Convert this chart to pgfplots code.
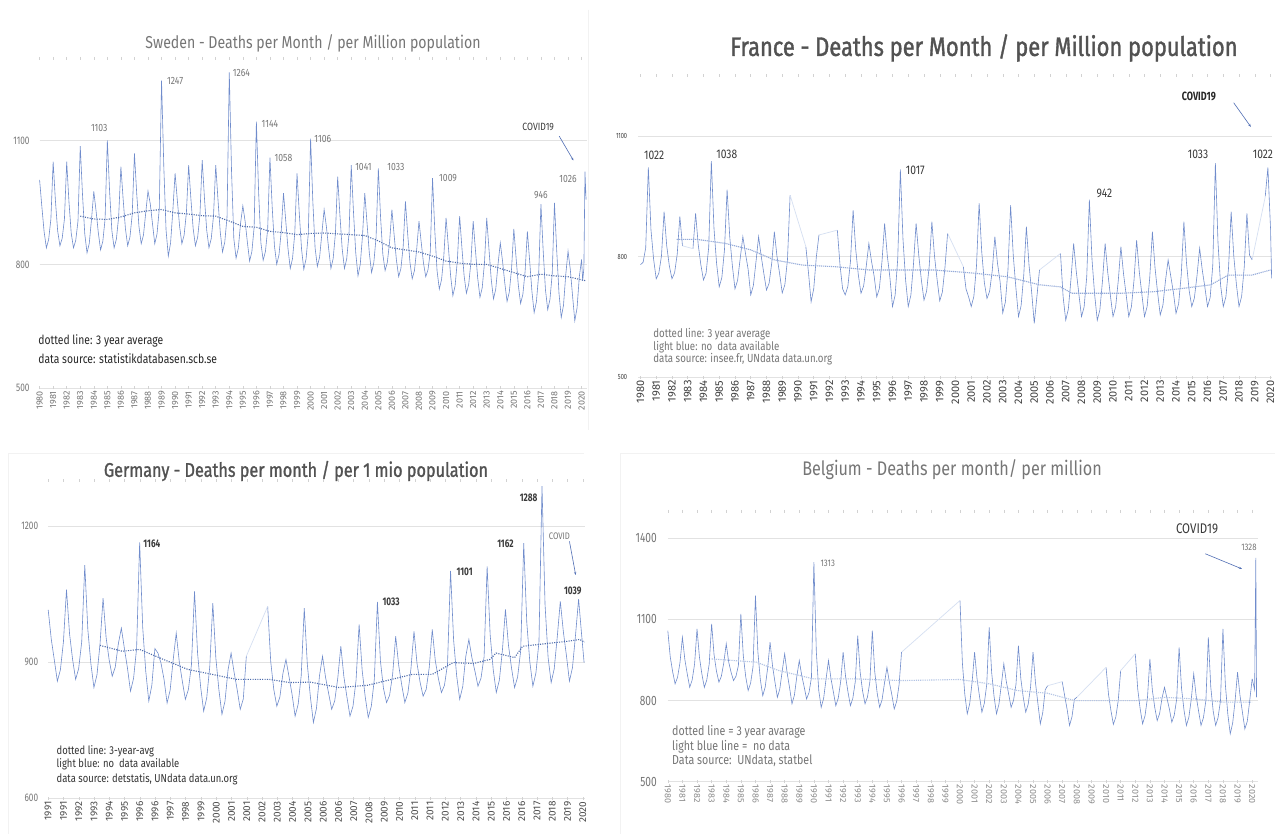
\documentclass[border=0pt]{standalone}
\usepackage{pgfplots}
\pgfplotsset{compat=1.18}
\usetikzlibrary{arrows.meta}
\usepackage{fontspec}
\setmainfont{Fira Sans}[FakeStretch=0.75]
\newfontfamily\tickfont{Fira Sans}
\newfontfamily\txt{Fira Sans}[FakeStretch=0.82]
\newfontfamily\med{Fira Sans}[FakeStretch=0.82, FakeBold=1.3]
\newcommand{\fs}[1]{\fontsize{#1}{#1}\selectfont}
\definecolor{linec}{RGB}{112,140,204}
\definecolor{avgc}{RGB}{78,108,172}
\definecolor{avglight}{RGB}{150,172,218}
\definecolor{nodata}{RGB}{214,224,242}
\definecolor{gridc}{RGB}{226,226,226}
\definecolor{txtgray}{RGB}{118,118,118}
\definecolor{txtdark}{RGB}{58,58,58}
\definecolor{titled}{RGB}{82,82,82}
\definecolor{arrowc}{RGB}{80,110,180}
\pgfplotsset{
  panel/.style={
    scale only axis,
    axis line style={draw=none},
    ymajorgrids,
    major grid style={draw=gridc, line width=0.7pt},
    ytick style={draw=none},
    xtick style={draw=gray!35, line width=0.5pt},
    major tick length=3pt, tick align=center,
    clip=false,
    unbounded coords=jump,
    /pgf/number format/assume math mode=true,
    /pgf/number format/1000 sep={},
    xticklabel style={rotate=90, anchor=east, inner sep=1.5pt},
  },
  dline/.style={color=linec, line width=0.6pt, mark=none},
  avgline/.style={color=avgc, line width=1.1pt, dash pattern=on 1.1pt off 1.3pt, mark=none},
  nodline/.style={color=nodata, line width=0.7pt, mark=none},
}
\begin{document}
\begin{tikzpicture}
\path[use as bounding box] (0pt,0pt) rectangle (1275pt,834pt);
\fill[white] (0pt,0pt) rectangle (1275pt,834pt);
\draw[gray!10, line width=0.8pt] (588pt,824pt) -- (588pt,404pt);
\draw[gray!10, line width=0.8pt] (8pt,0pt) -- (8pt,381pt) -- (584pt,381pt);
\draw[gray!10, line width=0.8pt] (620pt,0pt) -- (620pt,381pt) -- (1275pt,381pt);

% ---------------- Sweden ----------------
\node[font=\txt\fs{17.2}, text=txtgray] at (313pt,791pt) {Sweden - Deaths per Month / per Million population};
\begin{axis}[panel,
  at={(39.6pt,446pt)}, anchor=south west,
  width=547.4pt, height=329.7pt,
  xmin=1980, xmax=2020.4, ymin=500, ymax=1300,
  ytick={500,800,1100}, xtick={1980,1981,...,2020},
  yticklabel style={font=\fs{11}, text=txtgray, xshift=-5pt},
  xticklabel style={font=\tickfont\fs{9}, text=txtgray},
]
\addplot[dline] table[row sep=\\, x expr=1980+\coordindex/6, y index=0] {v\\
1005\\940\\879\\840\\860\\910\\
1049\\955\\881\\845\\863\\910\\
1049\\952\\876\\840\\858\\905\\
1087\\969\\874\\828\\851\\910\\
977\\930\\877\\835\\856\\910\\
1101\\977\\882\\840\\861\\915\\
1037\\958\\887\\845\\866\\920\\
1069\\972\\892\\850\\871\\925\\
978\\947\\898\\850\\874\\935\\
1246\\1037\\883\\820\\852\\930\\
1021\\955\\892\\850\\871\\925\\
1041\\959\\887\\845\\866\\920\\
1053\\961\\883\\840\\862\\917\\
1041\\956\\878\\830\\854\\915\\
1266\\1025\\863\\815\\839\\900\\
942\\905\\854\\808\\831\\890\\
1146\\973\\852\\810\\831\\885\\
1059\\939\\845\\800\\823\\880\\
973\\906\\838\\790\\814\\875\\
1021\\923\\837\\788\\813\\875\\
1105\\952\\840\\795\\818\\875\\
933\\892\\838\\790\\814\\875\\
1013\\919\\837\\790\\813\\873\\
1041\\927\\828\\772\\800\\870\\
973\\900\\828\\780\\804\\865\\
1033\\914\\824\\785\\805\\855\\
933\\871\\811\\770\\790\\843\\
953\\874\\805\\765\\785\\837\\
905\\853\\803\\770\\787\\830\\
1009\\883\\785\\740\\763\\820\\
913\\843\\773\\724\\748\\810\\
917\\841\\772\\730\\751\\805\\
905\\835\\767\\720\\743\\803\\
913\\836\\763\\716\\740\\800\\
852\\808\\755\\710\\733\\790\\
886\\816\\749\\705\\727\\783\\
880\\809\\735\\683\\709\\775\\
946\\833\\739\\690\\715\\777\\
949\\833\\730\\671\\701\\775\\
832\\788\\724\\663\\694\\770\\
};
\addplot[dline] coordinates {(2019.833,770)(2020,812)(2020.08,760)(2020.17,790)(2020.25,1025)(2020.33,957)};
\addplot[avgline] coordinates {(1983,917)(1984,910)(1985,909)(1986,915)(1987,925)(1988,930)(1989,933)(1990,925)(1991,922)(1992,918)(1993,917)(1994,905)(1995,892)(1996,890)(1997,880)(1998,877)(1999,872)(2000,875)(2001,876)(2002,874)(2003,872)(2004,870)(2005,857)(2006,840)(2007,835)(2008,830)(2009,820)(2010,808)(2011,803)(2012,800)(2013,800)(2014,790)(2015,780)(2016,770)(2017,776)(2018,772)(2019,770)(2020.33,760)};
\begin{scope}[every node/.style={font=\txt\fs{10.5}, text=txtgray}]
\node at (axis cs:1984.4,1130) {1103};
\node at (axis cs:1990.0,1246) {1247};
\node at (axis cs:1994.9,1264) {1264};
\node at (axis cs:1997.0,1140) {1144};
\node at (axis cs:2000.9,1103) {1106};
\node at (axis cs:1998.0,1057) {1058};
\node at (axis cs:2003.9,1036) {1041};
\node at (axis cs:2006.3,1037) {1033};
\node at (axis cs:2010.15,1009) {1009};
\node at (axis cs:2017.0,967) {946};
\node at (axis cs:2019.0,1007) {1026};
\end{scope}
\node[font=\txt\fs{10.5}, text=txtdark] at (axis cs:2016.8,1134) {COVID19};
\draw[arrowc, line width=0.6pt, -{Stealth[length=3pt]}] (axis cs:2018.35,1111) -- (axis cs:2019.4,1052);
\node[anchor=west, font=\txt\fs{12.6}, text=black!85] at (axis cs:1979.65,613) {dotted line: 3 year average};
\node[anchor=west, font=\txt\fs{12.6}, text=black!85] at (axis cs:1979.65,572) {data source: statistikdatabasen.scb.se};
\end{axis}

% ---------------- France ----------------
\node[font=\med\fs{26.7}, text=titled] at (984pt,786pt) {France - Deaths per Month / per Million population};
\begin{axis}[panel,
  at={(638.1pt,456.7pt)}, anchor=south west,
  width=634pt, height=301.5pt,
  xmin=1979.85, xmax=2020.1, ymin=500, ymax=1250,
  ytick={500,800,1100}, xtick={1980,1981,...,2020},
  yticklabel style={font=\fs{7.5}, text=txtdark, xshift=-6pt},
  xticklabel style={font=\tickfont\fs{11}, text=black!75},
]
\addplot[dline] table[row sep=\\, x expr=1980+\coordindex/6, y index=0] {v\\
780\\786\\822\\1022\\867\\794\\
745\\759\\802\\912\\827\\777\\
745\\760\\806\\900\\827\\nan\\
nan\\nan\\820\\908\\830\\780\\
742\\759\\824\\1038\\871\\783\\
725\\748\\817\\967\\850\\778\\
720\\741\\796\\850\\808\\769\\
705\\728\\787\\850\\801\\758\\
717\\734\\784\\862\\801\\758\\
710\\730\\793\\953\\nan\\nan\\
nan\\nan\\nan\\825\\760\\688\\
720\\800\\854\\nan\\nan\\nan\\
nan\\nan\\nan\\866\\780\\720\\
705\\726\\789\\916\\818\\754\\
709\\727\\776\\833\\789\\752\\
700\\721\\788\\883\\804\\749\\
676\\704\\795\\1017\\844\\742\\
676\\704\\781\\883\\804\\742\\
692\\714\\777\\887\\802\\743\\
690\\712\\774\\858\\nan\\nan\\
nan\\nan\\nan\\775\\720\\700\\
676\\701\\777\\933\\812\\735\\
696\\714\\765\\850\\784\\737\\
660\\687\\768\\928\\804\\723\\
651\\678\\754\\875\\780\\713\\
634\\700\\767\\nan\\nan\\nan\\
nan\\nan\\nan\\nan\\808\\700\\
642\\670\\745\\833\\764\\707\\
651\\675\\751\\942\\794\\706\\
642\\668\\740\\833\\761\\704\\
651\\675\\740\\825\\758\\706\\
651\\675\\741\\841\\763\\706\\
651\\676\\748\\862\\773\\710\\
655\\679\\741\\792\\752\\711\\
659\\683\\755\\887\\784\\716\\
676\\697\\753\\821\\767\\724\\
676\\698\\778\\1033\\835\\728\\
676\\700\\771\\912\\802\\731\\
676\\701\\775\\908\\804\\792\\
nan\\nan\\nan\\nan\\950\\1022\\
870\\
};
\addplot[dline] coordinates {(2020,870)(2020.07,746)};
\addplot[nodline] coordinates {(1982.67,827)(1983.33,820)};
\addplot[nodline] coordinates {(1989.5,953)(1990.5,825)};
\addplot[nodline] coordinates {(1991.33,854)(1992.5,866)};
\addplot[nodline] coordinates {(1999.5,858)(2000.5,775)};
\addplot[nodline] coordinates {(2005.33,767)(2006.67,808)};
\addplot[nodline] coordinates {(2018.83,792)(2019.67,950)};
\addplot[color=avglight, line width=1.1pt, dash pattern=on 1.2pt off 0.8pt] coordinates {(1982.3,843)(1983.6,843)(1985.4,833)(1987,817)(1988.5,792)(1990.3,779)(1992.4,775)(1994.5,767)(1996.5,767)(1998.6,767)(2001.2,759)(2003.3,750)(2005.35,730)(2006.65,725)(2007.4,709)(2010.5,709)(2012.6,713)(2014.4,721)(2016.2,730)(2017.3,754)(2018.8,754)(2020,767)};
\begin{scope}[every node/.style={font=\txt\fs{12.5}, text=txtdark}]
\node at (axis cs:1980.87,1053) {1022};
\node at (axis cs:1985.48,1054) {1038};
\node at (axis cs:1997.45,1015) {1017};
\node at (axis cs:2009.45,957) {942};
\node at (axis cs:2015.4,1055) {1033};
\node at (axis cs:2019.52,1054) {1022};
\end{scope}
\node[font=\bfseries\fs{12}, text=black!85] at (axis cs:2015.45,1199) {COVID19};
\draw[arrowc, line width=0.6pt, -{Stealth[length=3pt]}] (axis cs:2017.66,1183) -- (axis cs:2018.75,1123);
\begin{scope}[every node/.style={anchor=west, font=\txt\fs{11.8}, text=txtgray}]
\node at (axis cs:1980.6,607) {dotted line: 3 year average};
\node at (axis cs:1980.6,576) {light blue: no\ \ data available};
\node at (axis cs:1980.6,545) {data source: insee.fr, UNdata data.un.org};
\end{scope}
\end{axis}

% ---------------- Germany ----------------
\node[font=\med\fs{19.8}, text=titled] at (296pt,363pt) {Germany - Deaths per month / per 1 mio population};
\begin{axis}[panel,
  at={(48.2pt,35.7pt)}, anchor=south west,
  width=536.8pt, height=317.7pt,
  xmin=1991, xmax=2020.35, ymin=600, ymax=1300,
  ytick={600,900,1200},
  xtick={1991,1991.8354,...,2020.3},
  xticklabels={1991,1991,1992,1993,1994,1995,1996,1996,1997,1998,1999,2000,2001,2001,2002,2003,2004,2005,2006,2006,2007,2008,2009,2010,2011,2011,2012,2013,2014,2015,2016,2016,2017,2018,2019,2020},
  yticklabel style={font=\fs{11}, text=txtgray, xshift=-5pt},
  xticklabel style={font=\tickfont\fs{10}, text=black!70},
]
\addplot[dline] table[row sep=\\, x expr=1991+\coordindex/6, y index=0] {v\\
1015\\951\\905\\858\\883\\945\\
1060\\963\\906\\862\\886\\945\\
1114\\972\\897\\844\\872\\940\\
1041\\954\\905\\869\\889\\940\\
975\\930\\887\\836\\864\\930\\
1164\\977\\880\\814\\849\\930\\
920\\898\\862\\810\\838\\905\\
964\\901\\858\\818\\840\\895\\
1056\\920\\846\\792\\821\\890\\
1030\\909\\839\\785\\814\\883\\
920\\877\\839\\796\\819\\913\\
nan\\nan\\nan\\nan\\nan\\nan\\
1023\\901\\840\\803\\823\\875\\
906\\868\\829\\781\\807\\870\\
1019\\896\\824\\767\\798\\870\\
913\\866\\831\\796\\815\\865\\
935\\868\\823\\781\\803\\860\\
983\\882\\824\\778\\803\\863\\
1033\\902\\842\\811\\827\\873\\
957\\892\\849\\811\\832\\885\\
968\\897\\856\\825\\840\\888\\
972\\903\\864\\833\\849\\895\\
1101\\949\\870\\818\\846\\913\\
950\\910\\880\\847\\865\\912\\
1111\\960\\883\\833\\860\\925\\
1016\\937\\887\\844\\867\\925\\
1162\\988\\901\\847\\876\\945\\
1288\\1027\\910\\855\\885\\955\\
1034\\967\\915\\858\\888\\960\\
1039\\960\\
};
\addplot[dline] coordinates {(2020.167,960)(2020.3,899)};
\addplot[nodline] coordinates {(2001.83,913)(2003,1023)};
\addplot[avgline] coordinates {(1993.83,937)(1995.06,924)(1996,928)(1997.3,906)(1998.63,884)(1999.97,873)(2001.3,862)(2003.1,862)(2004.2,855)(2005.33,856)(2006.9,844)(2008.46,849)(2009.57,860)(2010.9,873)(2012,873)(2013.14,899)(2014.26,897)(2015.15,906)(2015.49,920)(2016.5,910)(2016.94,935)(2018.5,942)(2019.4,946)(2020.06,950)(2020.33,944)};
\begin{scope}[every node/.style={font=\bfseries\fs{11}, text=txtdark}]
\node at (axis cs:1996.67,1160) {1164};
\node at (axis cs:2009.75,1032) {1033};
\node at (axis cs:2013.77,1100) {1101};
\node at (axis cs:2016.0,1160) {1162};
\node at (axis cs:2017.27,1263) {1288};
\node at (axis cs:2019.68,1057) {1039};
\end{scope}
\node[font=\txt\fs{9.5}, text=txtgray] at (axis cs:2018.95,1177) {COVID};
\draw[arrowc, line width=0.6pt, -{Stealth[length=3pt]}] (axis cs:2019.5,1166) -- (axis cs:2019.84,1092);
\begin{scope}[every node/.style={anchor=west, font=\txt\fs{11.5}, text=black!80}]
\node at (axis cs:1991.27,703) {dotted line: 3-year-avg};
\node at (axis cs:1991.27,674) {light blue: no\ \ data available};
\node at (axis cs:1991.27,642) {data source: detstatis, UNdata data.un.org};
\end{scope}
\end{axis}

% ---------------- Belgium ----------------
\node[font=\txt\fs{19.7}, text=txtgray] at (952pt,364pt) {Belgium - Deaths per month/ per million};
\begin{axis}[panel,
  at={(667.8pt,52.3pt)}, anchor=south west,
  width=590.2pt, height=270.4pt,
  xmin=1980, xmax=2020.4, ymin=500, ymax=1500,
  ytick={500,800,1100,1400}, xtick={1980,1981,...,2020},
  yticklabel style={font=\fs{13.5}, text=txtgray, xshift=-6pt},
  xticklabel style={font=\tickfont\fs{9}, text=black!45, rotate=180, anchor=west},
]
\addplot[dline] table[row sep=\\, x expr=1980+\coordindex/6, y index=0] {v\\
1059\\962\\906\\862\\886\\940\\
1034\\952\\898\\849\\876\\935\\
1065\\960\\898\\849\\876\\935\\
1084\\969\\908\\868\\890\\940\\
1010\\943\\904\\874\\890\\930\\
1121\\967\\888\\837\\864\\925\\
1188\\980\\878\\818\\850\\920\\
1016\\929\\869\\812\\843\\910\\
973\\903\\848\\788\\820\\890\\
948\\893\\851\\806\\830\\885\\
1312\\981\\837\\775\\808\\880\\
948\\882\\832\\781\\809\\870\\
979\\890\\832\\781\\809\\870\\
1040\\905\\835\\788\\813\\870\\
1059\\906\\827\\775\\803\\865\\
923\\868\\822\\769\\797\\860\\
979\\nan\\nan\\nan\\nan\\nan\\
nan\\nan\\nan\\nan\\nan\\nan\\
nan\\nan\\nan\\nan\\nan\\nan\\
nan\\nan\\nan\\nan\\nan\\nan\\
1170\\938\\822\\751\\789\\870\\
979\\882\\817\\757\\790\\860\\
1071\\905\\815\\751\\786\\860\\
936\\872\\824\\775\\801\\860\\
1003\\881\\811\\757\\786\\850\\
979\\867\\789\\714\\755\\840\\
855\\nan\\nan\\nan\\nan\\nan\\
870\\818\\768\\708\\740\\805\\
812\\nan\\nan\\nan\\nan\\nan\\
nan\\nan\\nan\\nan\\nan\\nan\\
923\\823\\763\\712\\739\\800\\
911\\nan\\nan\\nan\\nan\\nan\\
973\\843\\770\\714\\744\\810\\
954\\839\\774\\726\\752\\810\\
849\\809\\769\\720\\746\\805\\
997\\846\\765\\708\\738\\805\\
899\\817\\761\\708\\737\\800\\
1034\\851\\761\\708\\737\\800\\
1065\\859\\750\\677\\717\\800\\
905\\819\\757\\695\\723\\800\\
880\\
};
\addplot[dline] coordinates {(2020,880)(2020.17,840)(2020.25,1328)(2020.3,812)};
\addplot[nodline] coordinates {(1996,979)(2000,1170)};
\addplot[nodline] coordinates {(2006,855)(2007,870)};
\addplot[nodline] coordinates {(2008,812)(2010,923)};
\addplot[nodline] coordinates {(2011,911)(2012,973)};
\addplot[color=avglight!70, line width=1.1pt, dash pattern=on 1.2pt off 1pt] coordinates {(1983,954)(1986.06,942)(1987.6,911)(1990,880)(1992.9,880)(1996,874)(2000,878)(2002,862)(2003.94,837)(2006,827)(2007.85,800)(2010.08,800)(2012.1,800)(2014,812)(2016.09,806)(2018.04,794)(2020,794)};
\node[font=\txt\fs{9.5}, text=txtgray] at (axis cs:1990.95,1308) {1313};
\node[font=\txt\fs{9.5}, text=txtgray] at (axis cs:2019.78,1365) {1328};
\node[font=\txt\fs{14}, text=txtdark] at (axis cs:2016.23,1435) {COVID19};
\draw[arrowc, line width=0.6pt, -{Stealth[length=3pt]}] (axis cs:2016.79,1343) -- (axis cs:2019.3,1287);
\begin{scope}[every node/.style={anchor=west, font=\txt\fs{13}, text=txtgray}]
\node at (axis cs:1980.06,683) {dotted line = 3 year avarage};
\node at (axis cs:1980.06,630) {light blue line =\ \ no data};
\node at (axis cs:1980.06,576) {Data source:\ \ UNdata, statbel};
\end{scope}
\end{axis}
\end{tikzpicture}
\end{document}
